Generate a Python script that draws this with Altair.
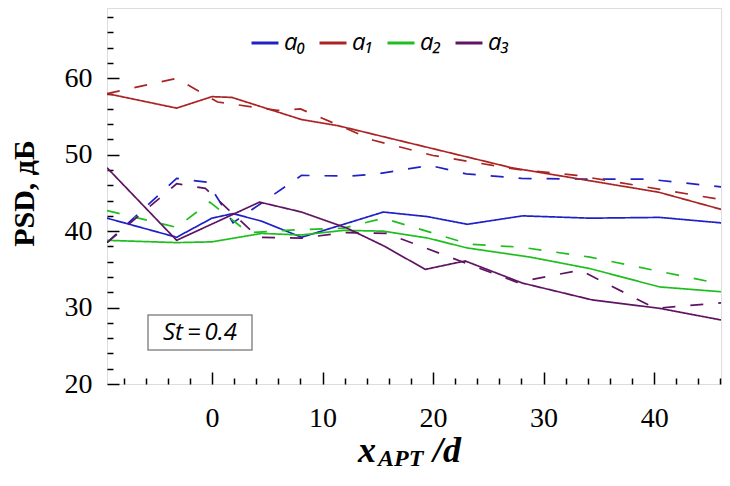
import altair as alt
import pandas as pd

# curve a0 (blue)
a0_solid_x = [-9.5, -3.2, 0.0, 1.9, 4.5, 8.1, 15.5, 19.5, 23.1, 28.1, 34.2, 40.5, 46.7]
a0_solid_y = [41.7, 39.2, 41.7, 42.3, 41.3, 39.2, 42.5, 41.9, 40.9, 42.0, 41.7, 41.8, 41.0]
a0_dash_x = [-9.5, -3.2, -0.4, 1.9, 8.1, 12.5, 15.0, 19.7, 23.0, 28.0, 34.5, 39.5, 46.7]
a0_dash_y = [38.5, 46.9, 46.4, 41.1, 47.3, 47.2, 47.5, 48.6, 47.5, 46.9, 46.8, 46.8, 45.7]

# curve a1 (red)
a1_solid_x = [-9.5, -3.2, 0.0, 1.8, 8.1, 11.4, 27.1, 40.4, 46.7]
a1_solid_y = [58.0, 56.1, 57.6, 57.5, 54.6, 53.8, 48.3, 45.1, 42.6]
a1_dash_x = [-9.5, -3.2, 0.5, 5.9, 8.0, 14.6, 20.0, 27.5, 33.0, 46.2]
a1_dash_y = [58.0, 60.0, 56.9, 55.8, 56.0, 51.9, 49.9, 48.1, 47.3, 44.1]

# curve a2 (green)
a2_solid_x = [-9.5, -3.2, 0.0, 4.5, 8.1, 11.9, 15.5, 19.5, 23.1, 28.8, 34.2, 40.5, 46.7]
a2_solid_y = [38.8, 38.5, 38.6, 39.7, 39.5, 40.1, 40.0, 39.1, 37.8, 36.6, 35.1, 32.7, 32.0]
a2_dash_x = [-9.5, -3.2, -0.2, 3.3, 8.0, 11.9, 15.5, 23.3, 28.0, 34.2, 46.7]
a2_dash_y = [42.7, 40.5, 43.8, 39.8, 40.2, 40.4, 41.7, 38.3, 37.9, 36.6, 32.9]

# curve a3 (purple)
a3_solid_x = [-9.5, -3.2, 4.3, 8.1, 12.2, 15.5, 19.3, 22.9, 28.1, 34.4, 40.5, 46.7]
a3_solid_y = [48.3, 38.8, 43.8, 42.5, 40.4, 38.1, 35.0, 36.1, 33.2, 31.0, 29.9, 28.2]
a3_dash_x = [-9.5, -3.2, -0.6, 4.2, 8.1, 12.0, 15.8, 27.6, 33.3, 40.1, 46.7]
a3_dash_y = [38.5, 46.2, 45.6, 39.2, 39.1, 39.8, 39.7, 33.3, 34.9, 29.9, 30.7]

series = ['a₀', 'a₁', 'a₂', 'a₃']
colors = ['#2020c8', '#aa2424', '#1ebe1e', '#5e1462']

x_ticks = list(range(-8, 47, 2))
y_ticks = list(range(20, 70, 2))

curves = [
    ('a₀', a0_solid_x, a0_solid_y, a0_dash_x, a0_dash_y),
    ('a₁', a1_solid_x, a1_solid_y, a1_dash_x, a1_dash_y),
    ('a₂', a2_solid_x, a2_solid_y, a2_dash_x, a2_dash_y),
    ('a₃', a3_solid_x, a3_solid_y, a3_dash_x, a3_dash_y),
]
rows = []
for name, sx, sy, dx, dy in curves:
    rows += [{'series': name, 'style': 'solid', 'x': a, 'psd': b} for a, b in zip(sx, sy)]
    rows += [{'series': name, 'style': 'dashed', 'x': a, 'psd': b} for a, b in zip(dx, dy)]
df = pd.DataFrame(rows)

# plot area: page x 107..721, y 8..384 (the top of the original frame is cropped)
W, H = 614, 376
major = "datum.value % 10 === 0"

lines = alt.Chart(df).mark_line(strokeWidth=1.7, clip=True).encode(
    x=alt.X('x:Q', title=None,
            scale=alt.Scale(domain=[-9.5, 46.05], nice=False, zero=False),
            axis=alt.Axis(values=x_ticks, domain=False, grid=False, labelOverlap=False, labelFlush=False,
                          labelExpr=major + " ? datum.label : ''",
                          tickSize={"condition": {"test": major, "value": -12}, "value": -6},
                          tickColor='black', tickWidth=1.5, labelPadding=32, labelBaseline='top',
                          labelFont='Liberation Serif', labelFontSize=28, labelColor='black')),
    y=alt.Y('psd:Q',
            scale=alt.Scale(domain=[20, 69.2], nice=False, zero=False),
            axis=alt.Axis(values=y_ticks, domain=False, grid=False, labelOverlap=False, labelFlush=False,
                          labelExpr=major + " ? datum.label : ''",
                          tickSize={"condition": {"test": major, "value": -12}, "value": -6},
                          tickColor='black', tickWidth=1.5, labelPadding=27,
                          labelFont='Liberation Serif', labelFontSize=28, labelColor='black',
                          title='PSD, дБ', titleFont='Liberation Serif', titleFontSize=30,
                          titleFontWeight='bold', titleColor='black', titleAngle=-90,
                          titleX=-83, titleY=185, titleAlign='center', titleBaseline='middle')),
    color=alt.Color('series:N', scale=alt.Scale(domain=series, range=colors),
                    legend=alt.Legend(orient='none', legendX=143, legendY=20, direction='horizontal',
                                      title=None, symbolType='stroke', symbolSize=729, symbolStrokeWidth=3,
                                      labelFont='Open Sans', labelFontSize=24, labelFontStyle='italic',
                                      labelColor='black', labelOffset=4, columnPadding=7)),
    strokeDash=alt.StrokeDash('style:N', scale=alt.Scale(domain=['solid', 'dashed'], range=[[1, 0], [13, 15]]),
                              legend=None),
)

note = pd.DataFrame({'label': ['St\u2009=\u20090.4']})
box = alt.Chart(note).mark_rect(fill='white', stroke='#8a8a8a', strokeWidth=1.5).encode(
    x=alt.value(41), x2=alt.value(145), y=alt.value(307), y2=alt.value(342))
box_text = alt.Chart(note).mark_text(font='Open Sans', fontSize=24, fontStyle='italic', color='black',
                                     align='center', baseline='alphabetic').encode(
    x=alt.value(93), y=alt.value(332), text='label:N')


def title_piece(txt, px, py, size):
    return alt.Chart(pd.DataFrame({'t': [txt]})).mark_text(
        font='Liberation Serif', fontSize=size, fontStyle='italic', fontWeight='bold',
        color='black', align='left', baseline='alphabetic').encode(
        x=alt.value(px), y=alt.value(py), text='t:N')


x_title = title_piece('x', 251, 454, 36) + title_piece('APT', 271, 458, 24) + title_piece('/d', 326, 454, 36)

chart = (lines + box + box_text + x_title).properties(
    width=W, height=H,
    autosize=alt.AutoSizeParams(type='none'),
    padding={'left': 99, 'top': 0, 'right': 1, 'bottom': 88},
).configure_view(stroke='#9a9a9a', strokeWidth=1.5).configure(background='white')

chart.save("out.html", embed_options={"renderer": "svg", "actions": False})
